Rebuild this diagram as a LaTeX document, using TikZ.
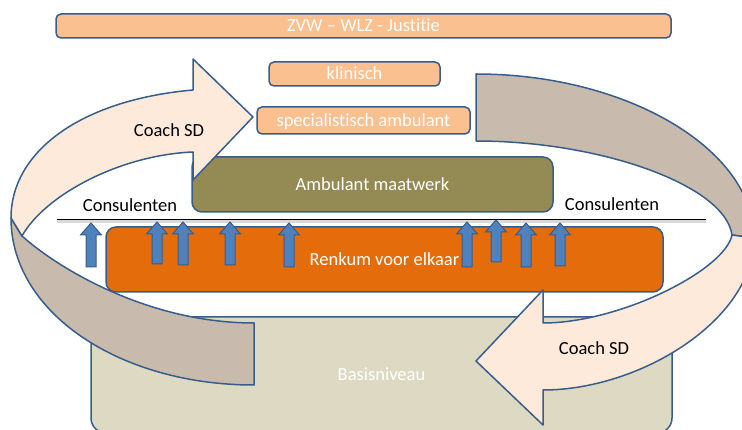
\documentclass[tikz,border=0pt]{standalone}
\usepackage{fontspec}
\setmainfont[Ligatures=NoCommon]{Carlito}
\usepackage{tikz}

\definecolor{rand}{HTML}{385D8A}
\definecolor{zalm}{HTML}{FAC090}
\definecolor{olijf}{HTML}{948A54}
\definecolor{oranje}{HTML}{E46C0A}
\definecolor{beige}{HTML}{DDD9C3}
\definecolor{perzik}{HTML}{FDEADA}
\definecolor{bruin}{HTML}{C9BAAE}
\definecolor{pijlblauw}{HTML}{4F81BD}

\begin{document}
\begin{tikzpicture}[x=1pt,y=-1pt,
    box/.style={draw=rand,line width=1.5pt,rounded corners=5pt,inner sep=0pt,text=white,
      font=\fontsize{18.5}{22}\selectfont,text height=12pt,text depth=0pt},
    band/.style={draw=rand,line width=1.5pt,line join=round},
    tekst/.style={font=\fontsize{18.5}{22}\selectfont,anchor=base},
    omhoog/.style={draw=rand,fill=pijlblauw,line width=1pt}]
    \useasboundingbox (0,0) rectangle (742,430);
    \clip (0,0) rectangle (742,430);
    %levels
    \node [box,fill=zalm,minimum width=615pt,minimum height=24pt] (zvw) at (363.5,26) {ZVW – WLZ - Justitie};
    \node [box,fill=zalm,minimum width=171pt,minimum height=24pt] (klinisch) at (354.5,74) {klinisch};
    \node [box,fill=zalm,minimum width=213pt,minimum height=27pt] (spec) at (363.5,120.5) {specialistisch ambulant};
    \node [box,fill=olijf,rounded corners=10pt,minimum width=361pt,minimum height=55pt] (maatwerk) at (372.5,184.5) {Ambulant maatwerk};
    \node [box,fill=oranje,rounded corners=10pt,minimum width=557pt,minimum height=65pt] (renkum) at (384.5,259.5) {Renkum voor elkaar};
    \node [box,fill=beige,rounded corners=15pt,minimum width=581pt,minimum height=116pt] (basis) at (381.5,375) {Basisniveau};
    %dividing line
    \coordinate (lijnL) at (57,219.5);
    \coordinate (lijnR) at (706,219.5);
    \draw [gray!30,line width=2.5pt] ([yshift=-1.8pt]lijnL) -- ([yshift=-1.8pt]lijnR);
    \draw [black,line width=1.5pt] (lijnL) -- (lijnR);
    %small arrows
    \foreach \x/\t/\b in {91/223/267,157/222/264,183/222/265,230/222/265,289/223/267,467/222/267,496/220/262,526/223/267,560/223/266}
      \draw [omhoog] (\x-5,\b) -- (\x-5,\t+12) -- (\x-10.5,\t+12) -- (\x,\t) -- (\x+10.5,\t+12) -- (\x+5,\t+12) -- (\x+5,\b) -- cycle;
    %left loop
    \draw [band,fill=bruin] (22,236) .. controls (60,270) and (150,323) .. (254,323) -- (254,385) .. controls (120,385) and (11,313) .. (11,218) -- cycle;
    \draw [band,fill=perzik] (11,218) .. controls (11,152) and (80,100) .. (193,90) -- (193,59) -- (253,117) -- (193,180) -- (193,152) .. controls (120,155) and (45,195) .. (22,236) -- cycle;
    %right loop
    \draw [band,fill=bruin] (476,74) .. controls (628,74) and (754,150) .. (754,238) -- (732,235) .. controls (725,185) and (600,141) .. (476,141) -- cycle;
    \draw [band,fill=perzik] (754,238) .. controls (754,320) and (640,390) .. (543,390) -- (543,425) -- (476,361) -- (543,290) -- (543,323) .. controls (620,323) and (725,270) .. (732,235) -- cycle;
    %labels
    \node [tekst] (coachL) at (169,137) {Coach SD};
    \node [tekst] (coachR) at (594,355) {Coach SD};
    \node [tekst] (consL) at (130,212) {Consulenten};
    \node [tekst] (consR) at (612,211) {Consulenten};
  \end{tikzpicture}
\end{document}
